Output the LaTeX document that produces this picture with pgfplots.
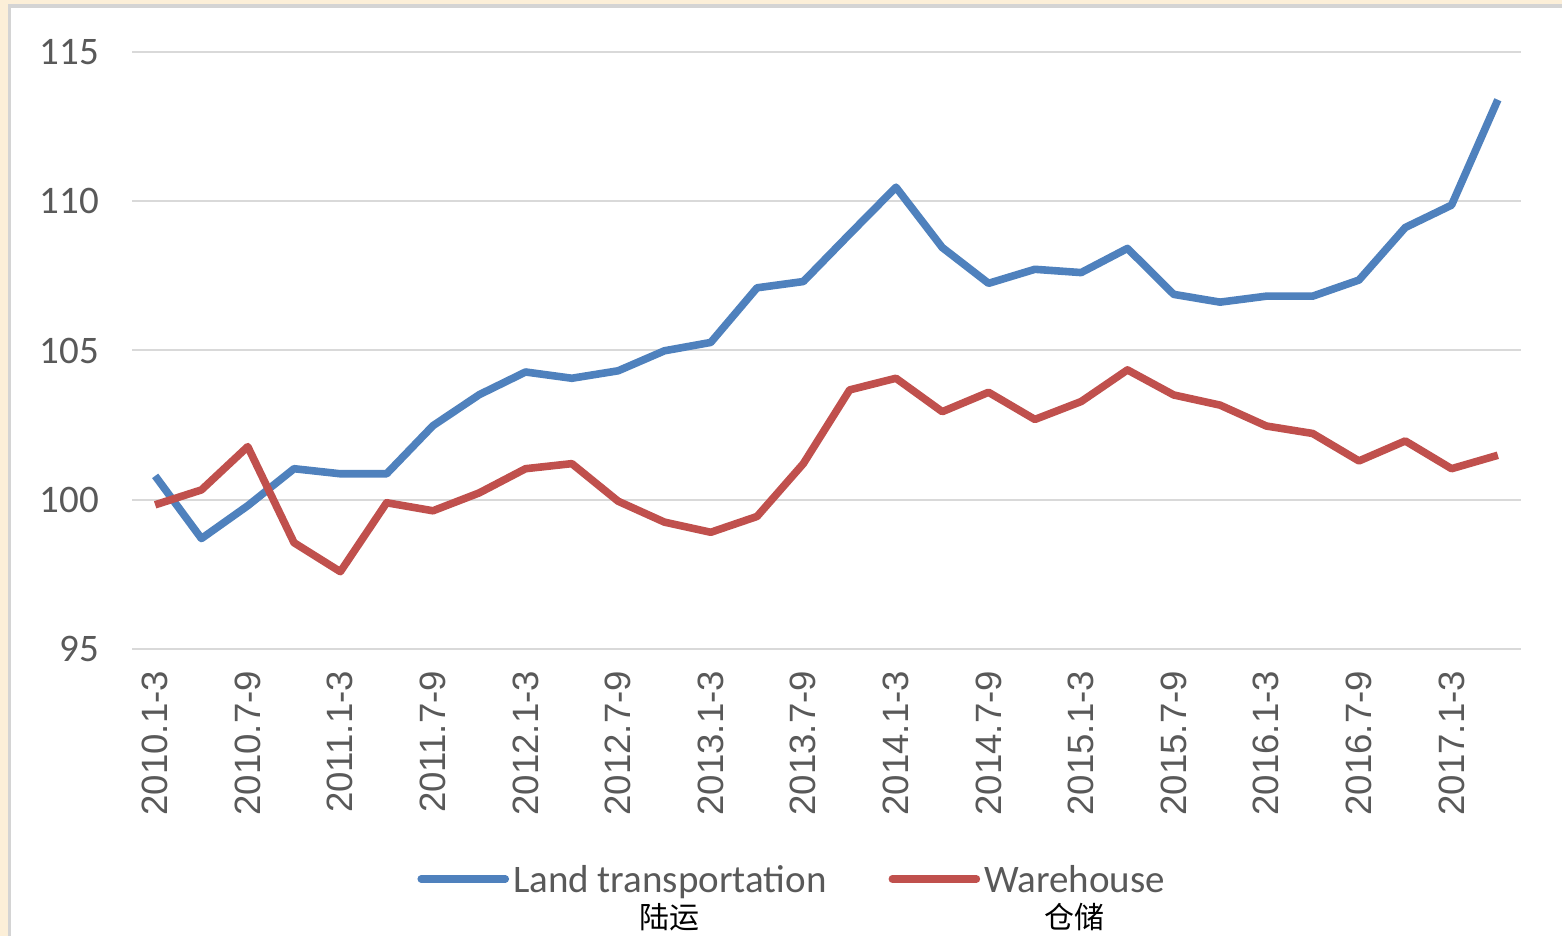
\documentclass[border=0pt]{standalone}
\usepackage{pgfplots}
\pgfplotsset{compat=1.18}
\usepackage{fontspec}
\setmainfont{Carlito}
\newfontfamily\arialfont{Liberation Sans}
\newfontfamily\cjk{Noto Sans CJK SC}

\definecolor{landblue}{HTML}{4F81BD}
\definecolor{warered}{HTML}{C0504D}
\definecolor{gridgray}{HTML}{D9D9D9}
\definecolor{ticktext}{HTML}{595959}
\definecolor{cream}{HTML}{FCEFD8}
\definecolor{frame}{HTML}{D4D4D4}

\begin{document}
\begin{tikzpicture}
% 1 px of the reference = 0.5 pt
\useasboundingbox (0,0) rectangle (781pt,468pt);
\fill[cream] (0,0) rectangle (781pt,468pt);
\fill[white] (4.75pt,0) rectangle (781pt,465pt);
\draw[frame, line width=1.6pt] (4.75pt,0) -- (4.75pt,465pt) -- (781pt,465pt);

\begin{axis}[
  at={(66pt,143.5pt)}, anchor=south west,
  scale only axis, width=694.5pt, height=298.5pt,
  xmin=-0.5, xmax=29.5, ymin=95, ymax=115,
  ytick={95,100,...,115},
  xtick={0,2,...,28},
  xticklabels={2010.1-3,2010.7-9,2011.1-3,2011.7-9,2012.1-3,2012.7-9,2013.1-3,2013.7-9,2014.1-3,2014.7-9,2015.1-3,2015.7-9,2016.1-3,2016.7-9,2017.1-3},
  axis line style={draw=none},
  major tick length=0pt,
  ymajorgrids, grid style={gridgray, line width=1pt},
  yticklabel style={font=\fontsize{19.5}{19.5}\selectfont, color=ticktext, xshift=-13pt},
  xticklabel style={font=\arialfont\fontsize{18.3}{18.3}\selectfont, color=ticktext, rotate=90, anchor=east, xshift=-7.5pt},
  /pgf/number format/assume math mode=true,
  legend style={draw=none, fill=none, legend columns=-1,
    at={(axis description cs:0.476,-0.344)}, anchor=north,
    font=\fontsize{19.5}{21}\selectfont, text=ticktext,
    /tikz/every even column/.append style={column sep=29pt}},
  legend image code/.code={\draw[#1, line cap=round] (0pt,0pt) -- (42pt,0pt);},
]
\addplot[landblue, line width=3.8pt, line join=round] coordinates {
(0,100.8) (1,98.7) (2,99.8) (3,101.04) (4,100.87) (5,100.87) (6,102.48) (7,103.52)
(8,104.28) (9,104.07) (10,104.32) (11,104.99) (12,105.27) (13,107.1) (14,107.31)
(15,108.9) (16,110.47) (17,108.45) (18,107.25) (19,107.72) (20,107.61) (21,108.42)
(22,106.88) (23,106.62) (24,106.82) (25,106.82) (26,107.36) (27,109.12) (28,109.87) (29,113.4)};
\addlegendentry{\begin{tabular}[t]{@{}c@{}}Land transportation\\[-3pt]{\cjk\color{black}\fontsize{15}{15}\selectfont 陆运}\end{tabular}}
\addplot[warered, line width=3.8pt, line join=round] coordinates {
(0,99.83) (1,100.33) (2,101.78) (3,98.56) (4,97.59) (5,99.9) (6,99.63) (7,100.23)
(8,101.04) (9,101.21) (10,99.95) (11,99.25) (12,98.91) (13,99.44) (14,101.21)
(15,103.68) (16,104.07) (17,102.95) (18,103.6) (19,102.69) (20,103.29) (21,104.35)
(22,103.51) (23,103.17) (24,102.47) (25,102.22) (26,101.3) (27,101.97) (28,101.04) (29,101.49)};
\addlegendentry{\begin{tabular}[t]{@{}c@{}}Warehouse\\[-3pt]{\cjk\color{black}\fontsize{15}{15}\selectfont 仓储}\end{tabular}}
\end{axis}
\end{tikzpicture}
\end{document}
